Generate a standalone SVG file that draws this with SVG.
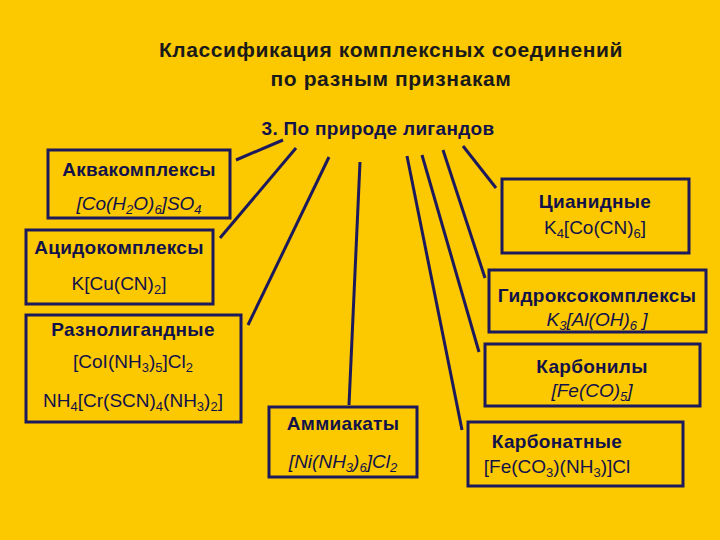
<svg xmlns="http://www.w3.org/2000/svg" width="720" height="540" viewBox="0 0 720 540">
<style>
.bx{fill:none;stroke:#1c1a5c;stroke-width:3}
.c line{stroke:#1c1a5c;stroke-width:3}
text{font-family:"Liberation Sans",Arial,sans-serif;fill:#12124a;text-anchor:middle}
.h{font-size:19px;font-weight:bold;letter-spacing:0.3px}
.f{font-size:19px}
.i{font-size:19px;font-style:italic}
.t{font-size:21px;font-weight:bold;fill:#1a1a1a;letter-spacing:0.6px}
.s{font-size:13px}
</style>
<rect width="720" height="540" fill="#fcc800"/>
<text class="t" x="391" y="57">Классификация комплексных соединений</text>
<text class="t" x="391" y="86">по разным признакам</text>
<text class="h" x="378" y="135" fill="#111">3. По природе лигандов</text>
<g class="c">
<line x1="236" y1="160" x2="283" y2="140"/>
<line x1="220" y1="238" x2="296" y2="148"/>
<line x1="248" y1="325" x2="329" y2="157"/>
<line x1="349" y1="405" x2="360" y2="162"/>
<line x1="407" y1="156" x2="462" y2="430"/>
<line x1="422" y1="155" x2="479" y2="352"/>
<line x1="443" y1="150" x2="485" y2="278"/>
<line x1="463" y1="146" x2="496" y2="188"/>
</g>
<g id="aqua"><rect class="bx" x="48" y="150" width="182" height="68"/>
<text class="h" x="139" y="176">Аквакомплексы</text>
<text class="i" x="139" y="210">[Co(H<tspan class="s" dy="4">2</tspan><tspan dy="-4">O)</tspan><tspan class="s" dy="4">6</tspan><tspan dy="-4">]SO</tspan><tspan class="s" dy="4">4</tspan></text></g>
<g id="acido"><rect class="bx" x="26" y="230" width="187" height="74"/>
<text class="h" x="119" y="254">Ацидокомплексы</text>
<text class="f" x="119" y="290">K[Cu(CN)<tspan class="s" dy="4">2</tspan><tspan dy="-4">]</tspan></text></g>
<g id="razno"><rect class="bx" x="26" y="315" width="215" height="107"/>
<text class="h" x="133" y="336">Разнолигандные</text>
<text class="f" x="133" y="368">[CoI(NH<tspan class="s" dy="4">3</tspan><tspan dy="-4">)</tspan><tspan class="s" dy="4">5</tspan><tspan dy="-4">]Cl</tspan><tspan class="s" dy="4">2</tspan></text>
<text class="f" x="133" y="407">NH<tspan class="s" dy="4">4</tspan><tspan dy="-4">[Cr(SCN)</tspan><tspan class="s" dy="4">4</tspan><tspan dy="-4">(NH</tspan><tspan class="s" dy="4">3</tspan><tspan dy="-4">)</tspan><tspan class="s" dy="4">2</tspan><tspan dy="-4">]</tspan></text></g>
<g id="amm"><rect class="bx" x="269" y="407" width="148" height="70"/>
<text class="h" x="343" y="430">Аммиакаты</text>
<text class="i" x="343" y="468">[Ni(NH<tspan class="s" dy="4">3</tspan><tspan dy="-4">)</tspan><tspan class="s" dy="4">6</tspan><tspan dy="-4">]Cl</tspan><tspan class="s" dy="4">2</tspan></text></g>
<g id="cyan"><rect class="bx" x="502" y="179" width="187" height="74"/>
<text class="h" x="595" y="208">Цианидные</text>
<text class="f" x="595" y="234">K<tspan class="s" dy="4">4</tspan><tspan dy="-4">[Co(CN)</tspan><tspan class="s" dy="4">6</tspan><tspan dy="-4">]</tspan></text></g>
<g id="hydro"><rect class="bx" x="489" y="270" width="217" height="62"/>
<text class="h" x="597" y="302">Гидроксокомплексы</text>
<text class="i" x="597" y="326">K<tspan class="s" dy="4">3</tspan><tspan dy="-4">[Al(OH)</tspan><tspan class="s" dy="4">6</tspan><tspan dy="-4"> ]</tspan></text></g>
<g id="carbonyl"><rect class="bx" x="485" y="344" width="215" height="62"/>
<text class="h" x="592" y="373">Карбонилы</text>
<text class="i" x="592" y="397">[Fe(CO)<tspan class="s" dy="4">5</tspan><tspan dy="-4">]</tspan></text></g>
<g id="carbonate"><rect class="bx" x="468" y="422" width="215" height="64"/>
<text class="h" x="557" y="448">Карбонатные</text>
<text class="f" x="557" y="473">[Fe(CO<tspan class="s" dy="4">3</tspan><tspan dy="-4">)(NH</tspan><tspan class="s" dy="4">3</tspan><tspan dy="-4">)]Cl</tspan></text></g>
</svg>
